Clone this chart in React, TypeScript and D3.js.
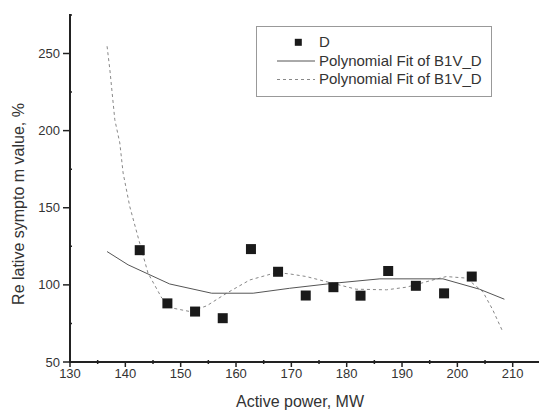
import React from "react";
import * as d3 from "d3";

const pointX = [142.6, 147.6, 152.6, 157.6, 162.7, 167.6, 172.6, 177.6, 182.5, 187.5, 192.5, 197.6, 202.6];
const pointY = [122.5, 88, 82.7, 78.4, 123.2, 108.5, 93.1, 98.5, 93, 109, 99.4, 94.5, 105.4];

const solidX = [136.7, 140.5, 148, 155.6, 163.1, 169.7, 177.5, 186, 197.4, 204, 208.5];
const solidY = [121.6, 113, 100.6, 94.6, 94.6, 97.8, 101, 103.9, 103.9, 97.2, 90.7];

const dashX = [136.7, 137.2, 138.1, 139, 139.6, 140.8, 142.6, 144.1, 146.6, 148.6, 151.7, 154.7, 158.3, 162.5, 167.3, 169.7, 172.7, 177.5, 181.7, 187.2, 190.8, 195.6, 198, 201.6, 204.6, 206.4, 208.2];
const dashY = [254.7, 239.6, 207, 192, 172.5, 150.8, 127, 107.6, 91.4, 84.9, 82.7, 86.4, 94.6, 103.2, 108, 107.1, 105.4, 101, 97.2, 96.8, 98.5, 103.2, 105.4, 104.4, 95.6, 83.8, 69.7];

const xTicks = [130, 140, 150, 160, 170, 180, 190, 200, 210];
const yTicks = [50, 100, 150, 200, 250];
const legendLabels = ["D", "Polynomial Fit of B1V_D", "Polynomial Fit of B1V_D"];

const W = 539;
const H = 411;

export default function App() {
  const x = d3.scaleLinear().domain([130, 210]).range([70, 512.7]);
  const y = d3.scaleLinear().domain([50, 250]).range([362, 53.5]);
  const xMax = x.invert(539);
  const yMax = y.invert(14);
  const line = d3.line<[number, number]>().x((d) => x(d[0])).y((d) => y(d[1]));
  const solid = solidX.map((v, i) => [v, solidY[i]] as [number, number]);
  const dashed = dashX.map((v, i) => [v, dashY[i]] as [number, number]);
  const xMinor = d3.range(135, xMax, 10);
  const yMinor = d3.range(75, yMax, 50);
  const font = "'Liberation Sans', Arial, sans-serif";
  const textColor = "#333";
  return (
    <svg width={W} height={H} style={{ position: "absolute", left: 0, top: 0, background: "#fff" }} fontFamily={font}>
      <rect width={W} height={H} fill="#fff" />
      <path d={line(dashed) || ""} fill="none" stroke="#888" strokeWidth={1} strokeDasharray="3,3" />
      <path d={line(solid) || ""} fill="none" stroke="#555" strokeWidth={1} />
      {pointX.map((v, i) => (
        <rect key={i} x={x(v) - 5} y={y(pointY[i]) - 5} width={10} height={10} fill="#1a1a1a" />
      ))}
      {/* axes */}
      <line x1={x(130)} x2={x(130)} y1={y(yMax)} y2={y(50)} stroke="#222" strokeWidth={2} />
      <line x1={x(130) - 1} x2={539} y1={y(50)} y2={y(50)} stroke="#222" strokeWidth={2} />
      {yTicks.map((t) => (
        <g key={t}>
          <line x1={x(130) - 7} x2={x(130)} y1={y(t)} y2={y(t)} stroke="#222" strokeWidth={1.5} />
          <text x={x(130) - 10} y={y(t)} dy="0.35em" textAnchor="end" fontSize={13} fill={textColor}>{t}</text>
        </g>
      ))}
      {yMinor.map((t) => (
        <line key={t} x1={x(130)} x2={x(130) + 2} y1={y(t)} y2={y(t)} stroke="#222" strokeWidth={1.5} />
      ))}
      {xTicks.map((t) => (
        <g key={t}>
          <line x1={x(t)} x2={x(t)} y1={y(50)} y2={y(50) + 5} stroke="#222" strokeWidth={1.5} />
          <text x={x(t)} y={y(50) + 16} textAnchor="middle" fontSize={13} fill={textColor}>{t}</text>
        </g>
      ))}
      {xMinor.map((t) => (
        <line key={t} x1={x(t)} x2={x(t)} y1={y(50) - 2} y2={y(50) + 2} stroke="#222" strokeWidth={1.5} />
      ))}
      <text x={300} y={407} textAnchor="middle" fontSize={16} fill={textColor}>Active power, MW</text>
      <text transform={`translate(24,204) rotate(-90)`} textAnchor="middle" fontSize={16} fill={textColor}>Re lative sympto m value, %</text>
      {/* legend */}
      <rect x={256.5} y={26.5} width={235} height={70} fill="#fff" stroke="#999" strokeWidth={1} />
      <rect x={298.3 - 3.5} y={42.3 - 3.5} width={7} height={7} fill="#1a1a1a" />
      <line x1={277} x2={315} y1={61} y2={61} stroke="#555" strokeWidth={1} />
      <line x1={277} x2={315} y1={79.5} y2={79.5} stroke="#888" strokeWidth={1} strokeDasharray="3,3" />
      {legendLabels.map((l, i) => (
        <text key={i} x={319} y={42 + i * 18.5} dy="0.35em" fontSize={15} fill={textColor}>{l}</text>
      ))}
    </svg>
  );
}
